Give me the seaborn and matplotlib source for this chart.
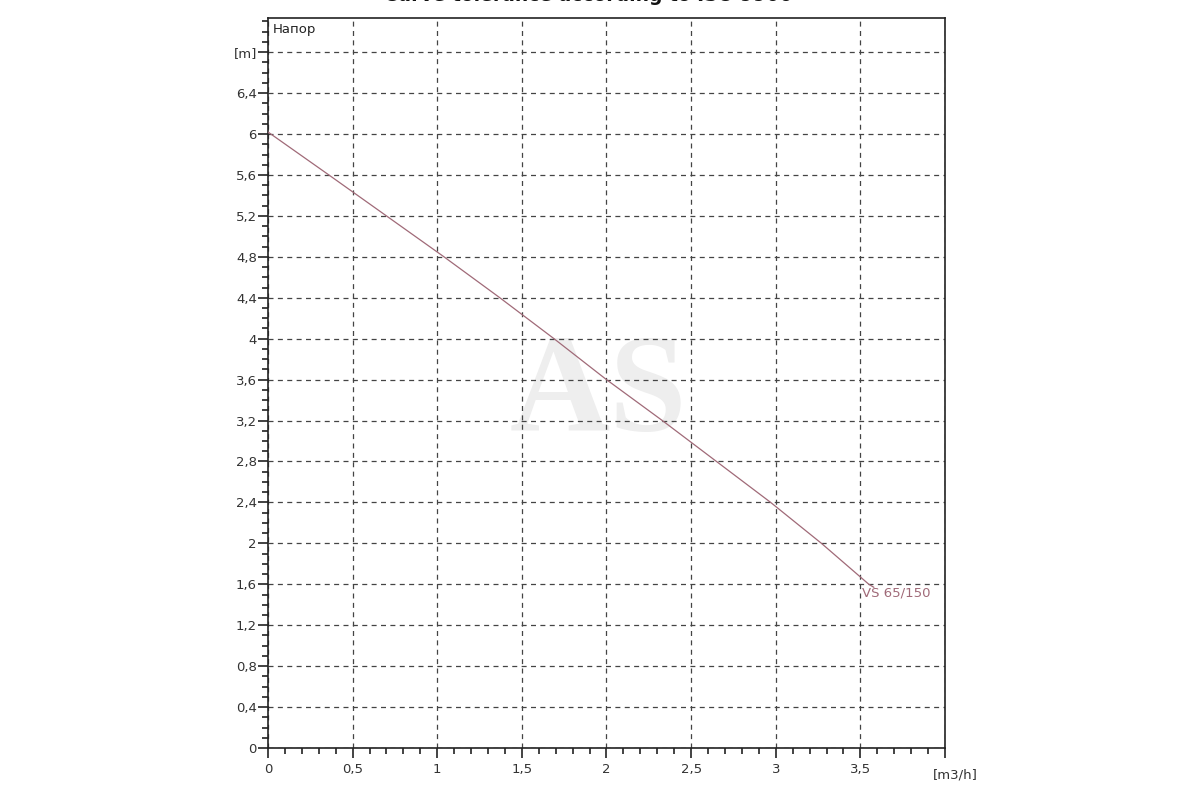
import numpy as np
import pandas as pd
import matplotlib
matplotlib.use("Agg")
import matplotlib.pyplot as plt
import seaborn as sns

# ---- data ----
flow = [0.0, 0.36, 0.70, 1.04, 1.37, 1.69, 2.0, 2.33, 2.65, 2.97, 3.27, 3.55, 3.58]
head = [6.02, 5.6, 5.2, 4.8, 4.4, 4.0, 3.6, 3.2, 2.8, 2.4, 2.0, 1.6, 1.57]
series_name = "VS 65/150"
y_ticks = [0, 0.4, 0.8, 1.2, 1.6, 2.0, 2.4, 2.8, 3.2, 3.6, 4.0, 4.4, 4.8, 5.2, 5.6, 6.0, 6.4, 6.8]
y_tick_labels = ["0", "0,4", "0,8", "1,2", "1,6", "2", "2,4", "2,8", "3,2", "3,6", "4",
                 "4,4", "4,8", "5,2", "5,6", "6", "6,4", "[m]"]
x_ticks = [0, 0.5, 1.0, 1.5, 2.0, 2.5, 3.0, 3.5, 4.0]
x_tick_labels = ["0", "0,5", "1", "1,5", "2", "2,5", "3", "3,5", ""]
title = "Curve tolerance according to ISO 9906"
y_title = "Напор"
x_unit = "[m3/h]"

df = pd.DataFrame({"flow": flow, "head": head})

sns.set_theme(style="white")
plt.rcParams['font.family'] = ['DejaVu Sans']

fig = plt.figure(figsize=(12, 8), dpi=100)
ax = fig.add_axes([0.2233, 0.065, 0.5642, 0.9125])

line_color = "#a06a78"

# watermark
ax.text(1.95, 3.43, "AS", fontsize=100, fontweight="bold", family=["Liberation Serif", "DejaVu Serif"],
        color="#eeeeee", ha="center", va="center", zorder=0)

sns.lineplot(data=df, x="flow", y="head", ax=ax, color=line_color, linewidth=0.9, zorder=3)

ax.set_xlim(0, 4.0)
ax.set_ylim(0, 7.134)

ax.set_yticks(y_ticks)
ax.set_yticklabels(y_tick_labels)
ax.set_xticks(x_ticks)
ax.set_xticklabels(x_tick_labels)
ax.set_yticks(np.arange(0, 7.15, 0.1), minor=True)
ax.set_xticks(np.arange(0, 4.01, 0.1), minor=True)

ax.tick_params(axis="both", which="major", direction="out", length=7, width=1.2,
               color="#222222", labelsize=9.5, labelcolor="#333333", pad=1,
               left=True, bottom=True)
ax.tick_params(axis="both", which="minor", direction="out", length=4, width=1.2,
               color="#222222", left=True, bottom=True)
ax.tick_params(axis="x", which="major", pad=4)

ax.grid(True, which="major", color="#444444", linestyle=(0, (4, 3.5)), linewidth=0.9)
ax.set_axisbelow(True)

for s in ax.spines.values():
    s.set_visible(True)
    s.set_color("#222222")
    s.set_linewidth(1.2)

ax.set_xlabel("")
ax.set_ylabel("")

ax.text(0.007, 0.993, y_title, transform=ax.transAxes, ha="left", va="top",
        fontsize=9.5, color="#222222")
ax.text(4.06, -0.26, x_unit, ha="center", va="center", fontsize=9.5, color="#333333",
        clip_on=False)
ax.text(flow[-1] - 0.07, head[-1] - 0.06, series_name, ha="left", va="center",
        fontsize=9.5, color=line_color)

fig.text(0.49, 1.0055, title, ha="center", va="center", fontsize=13.5, fontweight="bold",
         color="#111111")

fig.savefig("out.png", dpi=100, facecolor="white")
